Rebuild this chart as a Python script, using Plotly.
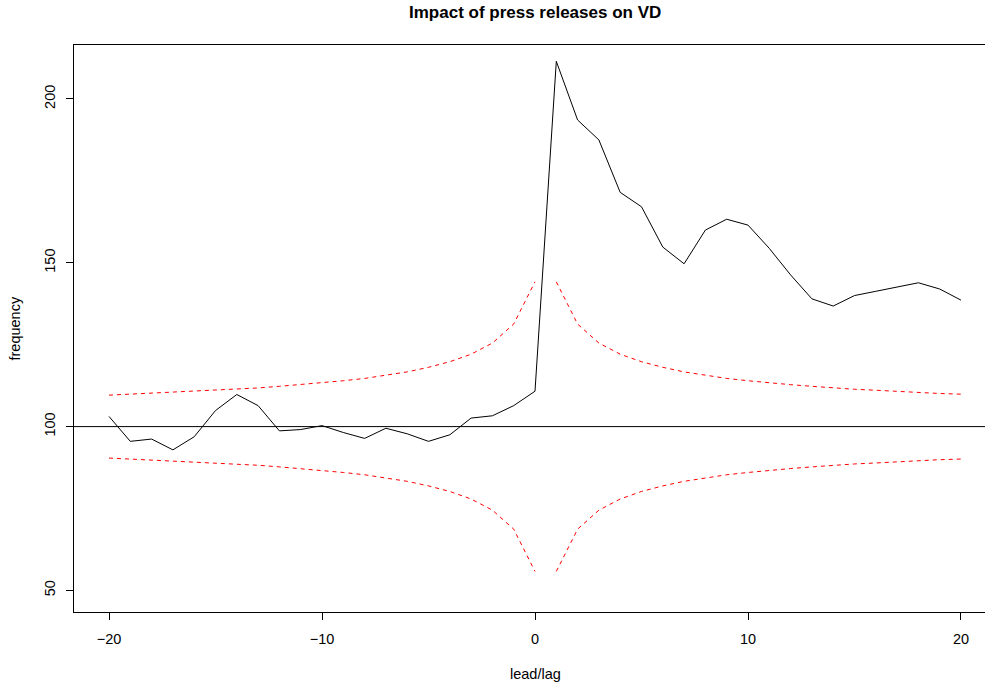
import plotly.graph_objects as go

# ---- data ----
lags = list(range(-20, 21))
frequency = [103.1, 95.5, 96.2, 92.9, 96.9, 104.9, 109.8, 106.4, 98.7, 99.1,
             100.3, 98.2, 96.4, 99.5, 97.8, 95.5, 97.5, 102.6, 103.3, 106.4,
             110.8,
             211.5, 193.6, 187.5, 171.5, 167.1, 154.8, 149.7, 160.0, 163.3,
             161.5, 154.4, 146.3, 139.0, 136.8, 140.0, 141.3, 142.7, 143.9,
             142.0, 138.6]
upper_band = [109.6, 109.9, 110.1, 110.4, 110.7, 111.1, 111.4, 111.8, 112.3, 112.8,
              113.3, 114.0, 114.7, 115.6, 116.7, 118.1, 119.8, 122.1, 125.5, 131.3,
              144.2,
              144.2, 131.3, 125.5, 122.1, 119.8, 118.1, 116.7, 115.6, 114.7, 114.0,
              113.3, 112.8, 112.3, 111.8, 111.4, 111.1, 110.7, 110.4, 110.1, 109.9]
lower_band = [90.4, 90.1, 89.9, 89.6, 89.3, 88.9, 88.6, 88.2, 87.7, 87.2,
              86.7, 86.0, 85.3, 84.4, 83.3, 81.9, 80.2, 77.9, 74.5, 68.7,
              55.8,
              55.8, 68.7, 74.5, 77.9, 80.2, 81.9, 83.3, 84.4, 85.3, 86.0,
              86.7, 87.2, 87.7, 88.2, 88.6, 88.9, 89.3, 89.6, 89.9, 90.1]
baseline = 100
x_ticks = [-20, -10, 0, 10, 20]
y_ticks = [50, 100, 150, 200]

FONT = "Liberation Sans, Arial, Helvetica, sans-serif"
W, H = 985, 688
L, R, T, B = 74, 0, 45, 76
LBL = 14.5

lead_idx = [i for i, v in enumerate(lags) if v <= 0]
lag_idx = [i for i, v in enumerate(lags) if v > 0]

fig = go.Figure()
fig.add_trace(go.Scatter(x=lags, y=frequency, mode="lines",
                         line=dict(color="black", width=1), showlegend=False))
for band in (upper_band, lower_band):
    for idx in (lead_idx, lag_idx):
        fig.add_trace(go.Scatter(x=[lags[i] for i in idx], y=[band[i] for i in idx],
                                 mode="lines",
                                 line=dict(color="red", width=1, dash="4px,4px"),
                                 showlegend=False))
fig.add_hline(y=baseline, line=dict(color="black", width=1))

fig.update_layout(
    width=W, height=H,
    margin=dict(l=L, r=R, t=T, b=B),
    paper_bgcolor="white", plot_bgcolor="white",
    font=dict(family=FONT, size=LBL, color="black"),
    xaxis=dict(range=[-21.643, 21.127], tickvals=x_ticks, showgrid=False,
               zeroline=False, showline=True, mirror=True, linecolor="black",
               linewidth=1, ticks="outside", ticklen=7, tickcolor="black",
               tickwidth=1, tickfont=dict(size=LBL), ticklabelstandoff=7),
    yaxis=dict(range=[43.41, 216.48], tickvals=y_ticks, showgrid=False,
               zeroline=False, showline=True, mirror=False, linecolor="black",
               linewidth=1, ticks="outside", ticklen=7, tickcolor="black",
               tickwidth=1, tickangle=-90, tickfont=dict(size=LBL), ticklabelstandoff=5),
    annotations=[
        dict(text="<b>Impact of press releases on VD</b>", xref="paper", yref="paper",
             x=(535 - L) / (W - L - R), y=1 + (T - 12) / (H - T - B),
             xanchor="center", yanchor="middle", showarrow=False,
             font=dict(size=17, family=FONT)),
        dict(text="lead/lag", xref="paper", yref="paper",
             x=(535 - L) / (W - L - R), y=-(674 - (H - B)) / (H - T - B),
             xanchor="center", yanchor="middle", showarrow=False,
             font=dict(size=LBL, family=FONT)),
        dict(text="frequency", xref="paper", yref="paper",
             x=-(L - 14) / (W - L - R), y=0.5, textangle=-90,
             xanchor="center", yanchor="middle", showarrow=False,
             font=dict(size=LBL, family=FONT)),
    ],
)

fig.write_html("out.html", config={"displayModeBar": False},
               post_script="document.body.style.margin='0';")
